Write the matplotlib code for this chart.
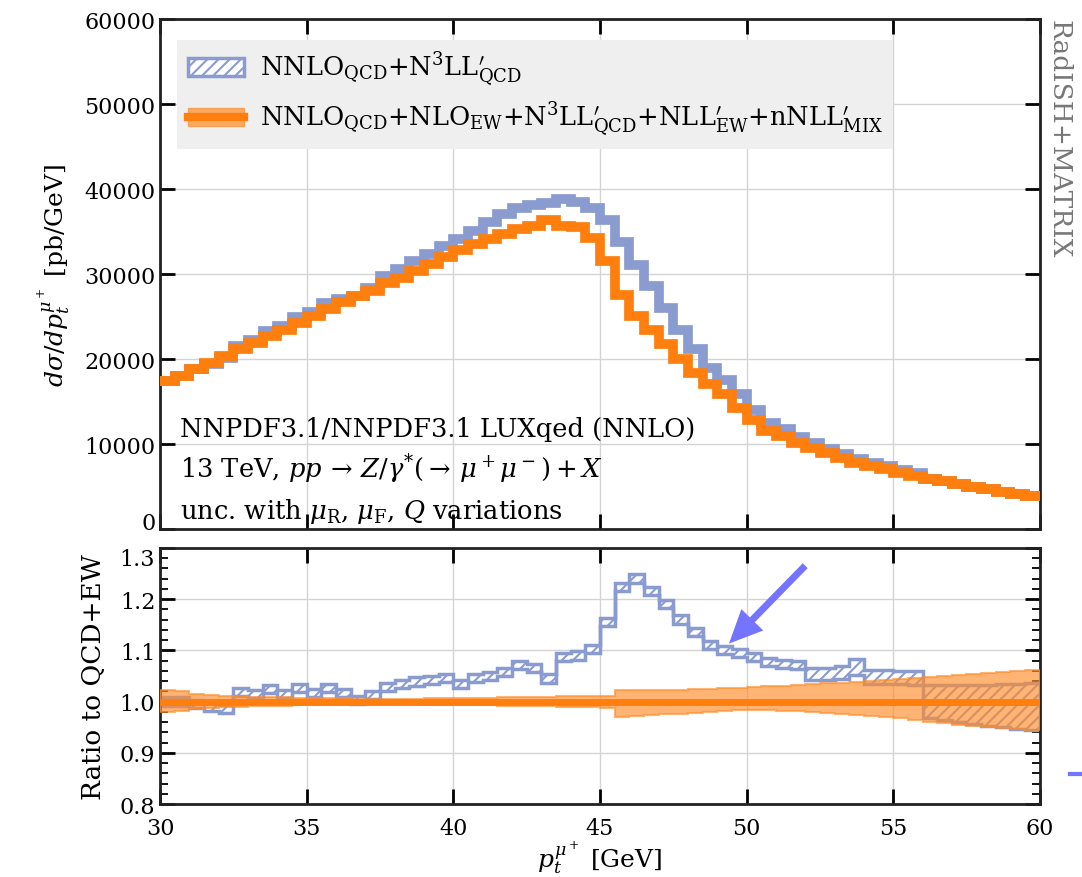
import numpy as np
import matplotlib.pyplot as plt
from matplotlib.patches import Patch
from matplotlib.lines import Line2D
from matplotlib.ticker import MultipleLocator

plt.rcParams['font.family'] = 'serif'
plt.rcParams['font.serif'] = ['DejaVu Serif']
plt.rcParams['mathtext.fontset'] = 'dejavuserif'
plt.rcParams['hatch.linewidth'] = 1.5

# 0.5 GeV bins from 30 to 60 GeV
edges = np.arange(30.0, 60.01, 0.5)

# d sigma / d pt [pb/GeV]
xs_qcd_ew = [17450, 18000, 18900, 19600, 20400, 21200, 21950, 22700, 23500, 24300,
             25100, 25900, 26700, 27450, 28000, 29000, 29600, 30400, 31200, 32000,
             32900, 33500, 34100, 34700, 35300, 35700, 36350, 35700, 35500, 34300,
             31600, 27600, 25100, 23500, 21800, 20000, 18400, 17050, 15900, 14300,
             12900, 11600, 11000, 10200, 9600, 9000, 8400, 7800, 7450, 7050,
             6650, 6300, 5950, 5700, 5300, 5000, 4700, 4400, 4200, 3900]
xs_qcd = [17450, 18000, 18800, 19400, 20100, 21600, 22300, 23300, 23900, 25000,
          25600, 26600, 27100, 27500, 28350, 29800, 30600, 31600, 32400, 33300,
          34100, 35100, 36100, 37100, 37800, 38200, 38400, 38800, 38550, 37800,
          36400, 33800, 31100, 28600, 26000, 23500, 21150, 19000, 17600, 15900,
          14000, 12500, 11800, 10900, 10100, 9500, 8900, 8300, 7800, 7400,
          6950, 6600, 5950, 5700, 5300, 5000, 4700, 4400, 4200, 3900]

# ratio of the QCD-only prediction to QCD+EW
ratio_qcd = [1.0, 1.0, 0.995, 0.99, 0.985, 1.018, 1.014, 1.025, 1.015, 1.027,
             1.016, 1.026, 1.016, 1.003, 1.013, 1.029, 1.034, 1.039, 1.042, 1.046,
             1.035, 1.046, 1.05, 1.058, 1.071, 1.065, 1.045, 1.087, 1.09, 1.103,
             1.155, 1.224, 1.24, 1.215, 1.19, 1.16, 1.135, 1.11, 1.10, 1.095,
             1.087, 1.077, 1.074, 1.072, 1.054, 1.054, 1.057, 1.067, 1.048, 1.048,
             1.047, 1.046, 1.0, 0.998, 0.996, 0.994, 0.993, 0.992, 0.99, 0.99]
unc_qcd = [0.008] * 44 + [0.012, 0.012, 0.013, 0.016, 0.013, 0.013, 0.013, 0.013,
                          0.032, 0.034, 0.036, 0.038, 0.04, 0.042, 0.044, 0.046]
unc_ew_up = [0.023, 0.02, 0.015, 0.012, 0.01, 0.01, 0.009, 0.008, 0.008, 0.007,
             0.007, 0.006, 0.006, 0.005, 0.005, 0.005, 0.005, 0.005, 0.006, 0.006,
             0.006, 0.007, 0.007, 0.008, 0.008, 0.009, 0.009, 0.01, 0.01, 0.01,
             0.011, 0.023, 0.022, 0.022, 0.022, 0.023, 0.024, 0.025, 0.026, 0.027,
             0.028, 0.03, 0.031, 0.033, 0.034, 0.036, 0.037, 0.039, 0.04, 0.042,
             0.044, 0.046, 0.048, 0.05, 0.052, 0.054, 0.056, 0.058, 0.06, 0.062]
unc_ew_down = [0.02, 0.018, 0.015, 0.012, 0.01, 0.01, 0.009, 0.008, 0.008, 0.007,
               0.007, 0.006, 0.006, 0.005, 0.005, 0.005, 0.005, 0.005, 0.006, 0.006,
               0.006, 0.007, 0.007, 0.008, 0.008, 0.009, 0.009, 0.01, 0.01, 0.01,
               0.012, 0.03, 0.028, 0.026, 0.025, 0.024, 0.022, 0.02, 0.018, 0.017,
               0.016, 0.017, 0.018, 0.019, 0.02, 0.022, 0.024, 0.026, 0.028, 0.031,
               0.033, 0.036, 0.039, 0.042, 0.045, 0.047, 0.049, 0.051, 0.053, 0.055]

blue = '#8a9bcf'
orange = '#ff7f0e'
band_orange = '#ff8c2a'

label_qcd = r'NNLO$_{\rm QCD}$+N$^3$LL$^\prime_{\rm QCD}$'
label_ew = (r'NNLO$_{\rm QCD}$+NLO$_{\rm EW}$+N$^3$LL$^\prime_{\rm QCD}$'
            r'+NLL$^\prime_{\rm EW}$+nNLL$^\prime_{\rm MIX}$')

fig = plt.figure(figsize=(10.82, 8.78), dpi=100)
ax1 = fig.add_axes([0.148, 0.396, 0.813, 0.581])
ax2 = fig.add_axes([0.148, 0.083, 0.813, 0.292])

# upper panel
ax1.stairs(xs_qcd, edges, baseline=None, color=blue, lw=7, zorder=3)
ax1.stairs(xs_qcd_ew, edges, baseline=None, color=orange, lw=7, zorder=4)
ax1.set_xlim(30, 60)
ax1.set_ylim(0, 60000)
ax1.set_yticks(np.arange(0, 60001, 10000))
ax1.xaxis.set_major_locator(MultipleLocator(5))
ax1.tick_params(labelbottom=False)
ax1.set_ylabel(r'$d\sigma/dp_t^{\mu^+}$ [pb/GeV]', fontsize=18, labelpad=8)

h_qcd = Patch(facecolor='white', edgecolor=blue, hatch='///', lw=2.5)
h_ew = (Patch(facecolor=band_orange, edgecolor=band_orange, alpha=0.7),
        Line2D([], [], color=orange, lw=6))
leg = ax1.legend([h_qcd, h_ew], [label_qcd, label_ew], loc='upper left',
                 bbox_to_anchor=(0.005, 0.985), fontsize=18.5, frameon=True,
                 facecolor='#efefef', edgecolor='none', framealpha=1,
                 fancybox=False, handlelength=2.2, labelspacing=0.45,
                 borderpad=0.4, handletextpad=0.6)

txt = ['NNPDF3.1/NNPDF3.1 LUXqed (NNLO)',
       r'13 TeV, $pp\,\to\, Z/\gamma^{*}(\to\,\mu^+\mu^-) + X$',
       r'unc. with $\mu_{\rm R}$, $\mu_{\rm F}$, $Q$ variations']
for t, yy in zip(txt, [0.182, 0.102, 0.022]):
    ax1.text(0.023, yy, t, transform=ax1.transAxes, fontsize=18.5, va='baseline',
             zorder=6)

# lower panel
lo_qcd = np.array(ratio_qcd) - np.array(unc_qcd)
hi_qcd = np.array(ratio_qcd) + np.array(unc_qcd)
ax2.stairs(hi_qcd, edges, baseline=lo_qcd, fill=True, facecolor='white',
           edgecolor=blue, hatch='///', lw=2.5, zorder=2)

ones = np.ones(len(ratio_qcd))
ax2.stairs(ones + np.array(unc_ew_up), edges, baseline=ones - np.array(unc_ew_down),
           fill=True, facecolor=band_orange, edgecolor=band_orange, alpha=0.65,
           lw=1.5, zorder=3)
ax2.stairs(ones, edges, baseline=None, color=orange, lw=5, zorder=4)

ax2.set_xlim(30, 60)
ax2.set_ylim(0.8, 1.3)
ax2.xaxis.set_major_locator(MultipleLocator(5))
ax2.set_yticks([0.8, 0.9, 1.0, 1.1, 1.2, 1.3], ['0.8', '0.9', '1.0', '1.1', '1.2', '1.3'])
ax2.yaxis.set_minor_locator(MultipleLocator(0.02))
ax2.set_ylabel('Ratio to QCD+EW', fontsize=19, labelpad=10)
ax2.set_xlabel(r'$p_t^{\mu^+}$ [GeV]', fontsize=18, labelpad=0)

ax2.annotate('', xy=(49.4, 1.113), xytext=(52.0, 1.265),
             arrowprops=dict(color='#7474ff', width=5, headwidth=22,
                             headlength=24, lw=0), zorder=6)

for ax in (ax1, ax2):
    ax.grid(True, color='#d4d4d4', lw=1)
    ax.set_axisbelow(True)
    ax.tick_params(which='major', direction='in', length=11, width=2,
                   top=True, right=True, labelsize=16)
    ax.tick_params(which='minor', direction='in', length=6, width=1.3,
                   top=True, right=True)
    for s in ax.spines.values():
        s.set_linewidth(2)
        s.set_color('#222222')
ax2.tick_params(axis='x', pad=9)

# keep the "0" and "1.3" labels at the panel join apart
ax1.get_yticklabels()[0].set_va('baseline')
ax2.get_yticklabels()[-1].set_va('top')

fig.text(0.979, 0.977, 'RadISH+MATRIX', rotation=-90, va='top', ha='center',
         fontsize=19, color='#777777')
fig.add_artist(Line2D([0.989, 0.999], [0.117, 0.117], color='#7474ff', lw=3,
                      transform=fig.transFigure))

fig.savefig('out.png', dpi=100)
